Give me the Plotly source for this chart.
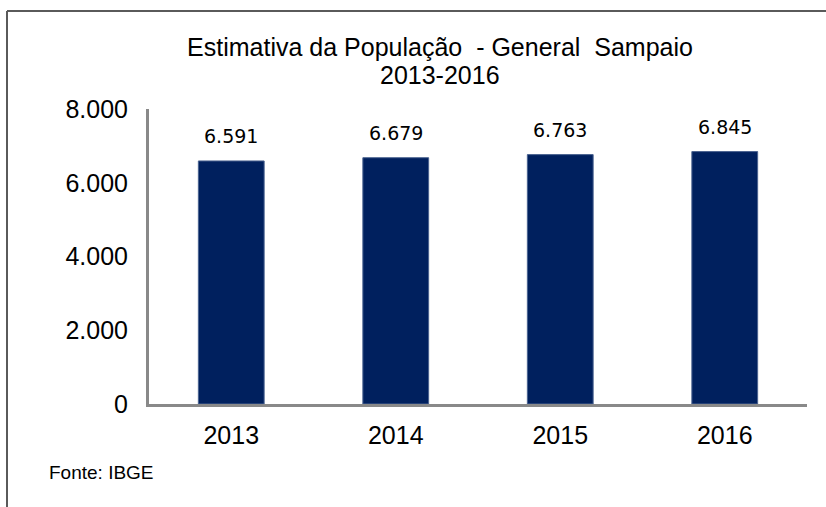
import plotly.graph_objects as go

years = ["2013", "2014", "2015", "2016"]
population = [6591, 6679, 6763, 6845]
label_texts = ["6.591", "6.679", "6.763", "6.845"]
y_ticks = [0, 2000, 4000, 6000, 8000]

W, H = 826, 507
L, R, T, B = 149, 19, 109, 103
pw, ph = W - L - R, H - T - B

def px_to_paper_x(px):
    return (px - L) / pw

def px_to_paper_y(py):
    return (H - B - py) / ph

fig = go.Figure()
fig.add_trace(go.Bar(
    x=years, y=population,
    marker=dict(color="#00205E", line=dict(color="#4a6290", width=1)),
    hoverinfo="skip",
))

# data labels above bars (category index positions on the category axis)
for i, (val, txt) in enumerate(zip(population, label_texts)):
    fig.add_annotation(x=i, y=val, xref="x", yref="y", text=txt, showarrow=False,
                       yanchor="bottom", yshift=12,
                       font=dict(family="DejaVu Sans", size=19, color="#000000"))

fig.add_annotation(xref="paper", yref="paper", x=px_to_paper_x(47), y=px_to_paper_y(472),
                   xanchor="left", yanchor="middle", text="Fonte: IBGE", showarrow=False,
                   font=dict(family="Liberation Sans, Arial", size=19, color="#000000"))

# second title line
fig.add_annotation(xref="paper", yref="paper", x=px_to_paper_x(440), y=px_to_paper_y(75),
                   xanchor="center", yanchor="middle", text="2013-2016", showarrow=False,
                   font=dict(family="Liberation Sans, Arial", size=25, color="#000000"))

# outer frame (top and left)
fig.add_shape(type="line", xref="paper", yref="paper",
              x0=px_to_paper_x(7), x1=px_to_paper_x(830), y0=px_to_paper_y(11), y1=px_to_paper_y(11),
              line=dict(color="#5a5a5a", width=2))
fig.add_shape(type="line", xref="paper", yref="paper",
              x0=px_to_paper_x(7), x1=px_to_paper_x(7), y0=px_to_paper_y(11), y1=px_to_paper_y(510),
              line=dict(color="#5a5a5a", width=2))

fig.update_layout(
    width=W, height=H,
    margin=dict(l=L, r=R, t=T, b=B),
    paper_bgcolor="white", plot_bgcolor="white",
    separators=",.",
    showlegend=False,
    bargap=0.6,
    title=dict(text="Estimativa da População  - General  Sampaio",
               x=440 / W, xanchor="center",
               y=1 - 47 / H, yanchor="middle",
               font=dict(family="Liberation Sans, Arial", size=25, color="#000000")),
    xaxis=dict(type="category", range=[-0.5, len(years) - 0.5],
               showline=True, linecolor="#898989", linewidth=3, ticks="",
               tickfont=dict(family="Liberation Sans, Arial", size=25, color="#000000"),
               ticklabelstandoff=7),
    yaxis=dict(range=[0, 8000], tickvals=y_ticks, tickformat=",d",
               showline=True, linecolor="#898989", linewidth=3, showgrid=False,
               zeroline=False, ticks="",
               tickfont=dict(family="Liberation Sans, Arial", size=25, color="#000000"),
               ticklabelstandoff=13),
)

fig.write_html("out.html", config={"displayModeBar": False},
               post_script="document.body.style.margin='0';")
